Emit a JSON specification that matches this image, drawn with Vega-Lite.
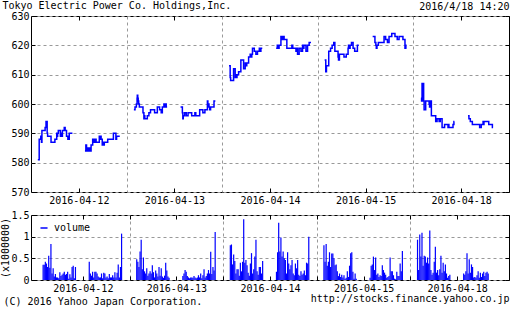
{
"$schema": "https://vega.github.io/schema/vega-lite/v6.json",
"padding": {"left": 0, "top": 1, "right": 0, "bottom": 0},
"title": {"text": "Tokyo Electric Power Co. Holdings,Inc.", "anchor": "start", "offset": 0, "dy": 10, "dx": 2, "font": "DejaVu Sans Mono", "fontSize": 10, "fontWeight": "normal", "color": "#000000"},
"config": {
  "font": "DejaVu Sans Mono",
  "view": {"stroke": "#000000", "strokeWidth": 1},
  "axis": {"labelFont": "DejaVu Sans Mono", "labelFontSize": 10, "labelColor": "#000000", "titleFont": "DejaVu Sans Mono", "titleFontSize": 10, "titleFontWeight": "normal", "titleColor": "#000000", "domain": false, "tickColor": "#000000", "gridColor": "#999999", "gridDash": [3, 3], "labelFlush": false, "labelOverlap": false},
  "legend": {"labelFont": "DejaVu Sans Mono", "labelFontSize": 10, "labelColor": "#000000"}
},
"resolve": {"scale": {"color": "independent"}, "legend": {"color": "independent"}},
"datasets": {
"price": [
{"t":30,"p":581,"s":1},{"t":36,"p":588,"s":1},{"t":43,"p":589,"s":1},{"t":46,"p":587,"s":1},{"t":48,"p":591,"s":1},{"t":62,"p":592,"s":1},{"t":66,"p":594,"s":1},{"t":68,"p":593,"s":1},{"t":69,"p":594,"s":1},{"t":71,"p":590,"s":1},{"t":73,"p":589,"s":1},{"t":88,"p":587,"s":1},{"t":105,"p":588,"s":1},{"t":113,"p":590,"s":1},{"t":115,"p":589,"s":1},{"t":117,"p":590,"s":1},{"t":120,"p":591,"s":1},{"t":129,"p":589,"s":1},{"t":132,"p":590,"s":1},{"t":135,"p":589,"s":1},{"t":138,"p":591,"s":1},{"t":146,"p":592,"s":1},{"t":150,"p":591,"s":1},{"t":156,"p":589,"s":1},{"t":162,"p":588,"s":1},{"t":164,"p":589,"s":1},{"t":166,"p":588,"s":1},{"t":168,"p":590,"s":1},{"t":182,"p":590,"s":1},
{"t":237,"p":584,"s":2},{"t":241,"p":586,"s":2},{"t":244,"p":585,"s":2},{"t":247,"p":584,"s":2},{"t":250,"p":585,"s":2},{"t":253,"p":584,"s":2},{"t":258,"p":585,"s":2},{"t":260,"p":584,"s":2},{"t":264,"p":586,"s":2},{"t":271,"p":588,"s":2},{"t":275,"p":587,"s":2},{"t":277,"p":588,"s":2},{"t":280,"p":587,"s":2},{"t":282,"p":588,"s":2},{"t":286,"p":587,"s":2},{"t":300,"p":589,"s":2},{"t":303,"p":588,"s":2},{"t":306,"p":589,"s":2},{"t":308,"p":588,"s":2},{"t":313,"p":586,"s":2},{"t":316,"p":587,"s":2},{"t":318,"p":586,"s":2},{"t":322,"p":587,"s":2},{"t":337,"p":588,"s":2},{"t":362,"p":590,"s":2},{"t":373,"p":588,"s":2},{"t":376,"p":589,"s":2},{"t":390,"p":589,"s":2},
{"t":452,"p":598,"s":3},{"t":457,"p":599,"s":3},{"t":463,"p":600,"s":3},{"t":466,"p":602,"s":3},{"t":467,"p":603,"s":3},{"t":469,"p":602,"s":3},{"t":471,"p":601,"s":3},{"t":473,"p":600,"s":3},{"t":476,"p":599,"s":3},{"t":492,"p":597,"s":3},{"t":496,"p":595,"s":3},{"t":498,"p":596,"s":3},{"t":500,"p":595,"s":3},{"t":511,"p":596,"s":3},{"t":518,"p":597,"s":3},{"t":525,"p":598,"s":3},{"t":543,"p":597,"s":3},{"t":555,"p":599,"s":3},{"t":565,"p":598,"s":3},{"t":572,"p":597,"s":3},{"t":577,"p":599,"s":3},{"t":584,"p":600,"s":3},{"t":590,"p":599,"s":3},{"t":592,"p":600,"s":3},{"t":594,"p":599,"s":3},{"t":598,"p":599,"s":3},
{"t":657,"p":599,"s":4},{"t":665,"p":597,"s":4},{"t":667,"p":595,"s":4},{"t":669,"p":596,"s":4},{"t":675,"p":597,"s":4},{"t":682,"p":596,"s":4},{"t":690,"p":597,"s":4},{"t":706,"p":596,"s":4},{"t":720,"p":597,"s":4},{"t":724,"p":596,"s":4},{"t":741,"p":598,"s":4},{"t":755,"p":597,"s":4},{"t":764,"p":598,"s":4},{"t":775,"p":601,"s":4},{"t":777,"p":599,"s":4},{"t":779,"p":600,"s":4},{"t":782,"p":599,"s":4},{"t":785,"p":598,"s":4},{"t":789,"p":599,"s":4},{"t":804,"p":601,"s":4},{"t":810,"p":601,"s":4},
{"t":870,"p":613,"s":5},{"t":875,"p":609,"s":5},{"t":877,"p":608,"s":5},{"t":890,"p":612,"s":5},{"t":897,"p":609,"s":5},{"t":900,"p":610,"s":5},{"t":902,"p":609,"s":5},{"t":905,"p":610,"s":5},{"t":912,"p":611,"s":5},{"t":922,"p":615,"s":5},{"t":934,"p":612,"s":5},{"t":941,"p":614,"s":5},{"t":944,"p":613,"s":5},{"t":948,"p":614,"s":5},{"t":956,"p":616,"s":5},{"t":963,"p":617,"s":5},{"t":967,"p":616,"s":5},{"t":970,"p":617,"s":5},{"t":973,"p":619,"s":5},{"t":981,"p":618,"s":5},{"t":988,"p":617,"s":5},{"t":995,"p":618,"s":5},{"t":1003,"p":619,"s":5},{"t":1007,"p":618,"s":5},{"t":1010,"p":619,"s":5},{"t":1016,"p":619,"s":5},
{"t":1077,"p":619,"s":6},{"t":1082,"p":620,"s":6},{"t":1084,"p":619,"s":6},{"t":1090,"p":620,"s":6},{"t":1098,"p":623,"s":6},{"t":1100,"p":622,"s":6},{"t":1102,"p":623,"s":6},{"t":1104,"p":622,"s":6},{"t":1110,"p":623,"s":6},{"t":1112,"p":622,"s":6},{"t":1124,"p":619,"s":6},{"t":1146,"p":620,"s":6},{"t":1150,"p":619,"s":6},{"t":1164,"p":618,"s":6},{"t":1168,"p":619,"s":6},{"t":1171,"p":617,"s":6},{"t":1178,"p":619,"s":6},{"t":1186,"p":618,"s":6},{"t":1193,"p":620,"s":6},{"t":1196,"p":619,"s":6},{"t":1199,"p":620,"s":6},{"t":1208,"p":618,"s":6},{"t":1215,"p":620,"s":6},{"t":1222,"p":621,"s":6},{"t":1230,"p":621,"s":6},
{"t":1290,"p":615,"s":7},{"t":1295,"p":611,"s":7},{"t":1298,"p":613,"s":7},{"t":1308,"p":618,"s":7},{"t":1316,"p":619,"s":7},{"t":1323,"p":620,"s":7},{"t":1330,"p":621,"s":7},{"t":1335,"p":618,"s":7},{"t":1349,"p":616,"s":7},{"t":1351,"p":615,"s":7},{"t":1355,"p":617,"s":7},{"t":1375,"p":616,"s":7},{"t":1385,"p":617,"s":7},{"t":1393,"p":619,"s":7},{"t":1395,"p":620,"s":7},{"t":1397,"p":619,"s":7},{"t":1402,"p":620,"s":7},{"t":1408,"p":621,"s":7},{"t":1415,"p":619,"s":7},{"t":1422,"p":618,"s":7},{"t":1434,"p":620,"s":7},{"t":1440,"p":620,"s":7},
{"t":1501,"p":623,"s":8},{"t":1511,"p":621,"s":8},{"t":1515,"p":620,"s":8},{"t":1517,"p":619,"s":8},{"t":1520,"p":620,"s":8},{"t":1526,"p":621,"s":8},{"t":1551,"p":623,"s":8},{"t":1558,"p":622,"s":8},{"t":1566,"p":621,"s":8},{"t":1573,"p":623,"s":8},{"t":1585,"p":624,"s":8},{"t":1599,"p":623,"s":8},{"t":1609,"p":622,"s":8},{"t":1617,"p":623,"s":8},{"t":1634,"p":622,"s":8},{"t":1643,"p":619,"s":8},{"t":1645,"p":620,"s":8},{"t":1647,"p":619,"s":8},{"t":1650,"p":619,"s":8},
{"t":1713,"p":602,"s":9},{"t":1716,"p":601,"s":9},{"t":1718,"p":607,"s":9},{"t":1719,"p":601,"s":9},{"t":1720,"p":606,"s":9},{"t":1721,"p":602,"s":9},{"t":1723,"p":607,"s":9},{"t":1725,"p":601,"s":9},{"t":1727,"p":598,"s":9},{"t":1734,"p":601,"s":9},{"t":1749,"p":600,"s":9},{"t":1751,"p":599,"s":9},{"t":1755,"p":601,"s":9},{"t":1759,"p":596,"s":9},{"t":1778,"p":594,"s":9},{"t":1780,"p":595,"s":9},{"t":1782,"p":594,"s":9},{"t":1784,"p":595,"s":9},{"t":1793,"p":594,"s":9},{"t":1795,"p":595,"s":9},{"t":1796,"p":594,"s":9},{"t":1798,"p":595,"s":9},{"t":1806,"p":592,"s":9},{"t":1817,"p":593,"s":9},{"t":1832,"p":592,"s":9},{"t":1834,"p":593,"s":9},{"t":1836,"p":592,"s":9},{"t":1854,"p":593,"s":9},{"t":1858,"p":594,"s":9},{"t":1860,"p":594,"s":9},
{"t":1920,"p":596,"s":10},{"t":1924,"p":595,"s":10},{"t":1930,"p":594,"s":10},{"t":1939,"p":593,"s":10},{"t":1971,"p":592,"s":10},{"t":1978,"p":593,"s":10},{"t":1986,"p":594,"s":10},{"t":1988,"p":593,"s":10},{"t":1990,"p":594,"s":10},{"t":2011,"p":593,"s":10},{"t":2027,"p":592,"s":10},{"t":2030,"p":592,"s":10}
],
"vol": [
{"t":32,"v":0.35},{"t":37,"v":0.35},{"t":42,"v":0.42},{"t":47,"v":0.38},{"t":52,"v":0.30},{"t":57,"v":0.56},{"t":62,"v":0.28},{"t":67,"v":0.83},{"t":72,"v":0.15},{"t":77,"v":0.27},{"t":82,"v":0.08},{"t":87,"v":0.14},{"t":92,"v":0.06},{"t":97,"v":0.06},{"t":102,"v":0.04},{"t":107,"v":0.18},{"t":112,"v":0.09},{"t":117,"v":0.12},{"t":122,"v":0.15},{"t":127,"v":0.19},{"t":132,"v":0.12},{"t":137,"v":0.14},{"t":142,"v":0.19},{"t":147,"v":0.03},{"t":152,"v":0.13},{"t":157,"v":0.06},{"t":162,"v":0.30},{"t":167,"v":0.33},{"t":172,"v":0.04},{"t":177,"v":0.30},
{"t":239,"v":0.42},{"t":244,"v":0.15},{"t":249,"v":0.10},{"t":254,"v":0.19},{"t":259,"v":0.06},{"t":264,"v":0.19},{"t":269,"v":0.19},{"t":274,"v":0.15},{"t":279,"v":0.08},{"t":284,"v":0.06},{"t":289,"v":0.06},{"t":294,"v":0.15},{"t":299,"v":0.04},{"t":304,"v":0.17},{"t":309,"v":0.15},{"t":314,"v":0.06},{"t":319,"v":0.08},{"t":324,"v":0.04},{"t":329,"v":0.14},{"t":334,"v":0.06},{"t":339,"v":0.06},{"t":344,"v":0.11},{"t":349,"v":0.06},{"t":354,"v":0.18},{"t":359,"v":0.06},{"t":364,"v":0.17},{"t":369,"v":0.36},{"t":374,"v":0.06},{"t":379,"v":0.30},{"t":384,"v":1.07},
{"t":452,"v":0.48},{"t":457,"v":0.42},{"t":462,"v":0.30},{"t":467,"v":0.66},{"t":472,"v":0.93},{"t":477,"v":0.25},{"t":482,"v":0.52},{"t":487,"v":0.20},{"t":492,"v":0.15},{"t":497,"v":0.27},{"t":502,"v":0.10},{"t":507,"v":0.15},{"t":512,"v":0.20},{"t":517,"v":0.15},{"t":522,"v":0.34},{"t":527,"v":0.18},{"t":532,"v":0.06},{"t":537,"v":0.22},{"t":542,"v":0.15},{"t":547,"v":0.08},{"t":552,"v":0.30},{"t":557,"v":0.10},{"t":562,"v":0.27},{"t":567,"v":0.08},{"t":572,"v":0.05},{"t":577,"v":0.10},{"t":582,"v":0.40},{"t":587,"v":0.22},{"t":592,"v":0.08},{"t":597,"v":0.05},
{"t":659,"v":0.09},{"t":664,"v":0.15},{"t":669,"v":0.23},{"t":674,"v":0.19},{"t":679,"v":0.09},{"t":684,"v":0.06},{"t":689,"v":0.04},{"t":694,"v":0.06},{"t":699,"v":0.06},{"t":704,"v":0.05},{"t":709,"v":0.09},{"t":714,"v":0.06},{"t":719,"v":0.04},{"t":724,"v":0.06},{"t":729,"v":0.11},{"t":734,"v":0.06},{"t":739,"v":0.15},{"t":744,"v":0.04},{"t":749,"v":0.11},{"t":754,"v":0.25},{"t":759,"v":0.06},{"t":764,"v":0.09},{"t":769,"v":0.15},{"t":774,"v":0.23},{"t":779,"v":0.15},{"t":784,"v":0.65},{"t":789,"v":0.14},{"t":794,"v":0.30},{"t":799,"v":0.22},{"t":804,"v":1.11},
{"t":872,"v":0.80},{"t":877,"v":0.82},{"t":882,"v":0.36},{"t":887,"v":0.59},{"t":892,"v":0.44},{"t":897,"v":0.15},{"t":902,"v":0.25},{"t":907,"v":0.25},{"t":912,"v":0.10},{"t":917,"v":0.40},{"t":922,"v":0.20},{"t":927,"v":0.42},{"t":932,"v":1.40},{"t":937,"v":0.40},{"t":942,"v":0.46},{"t":947,"v":0.34},{"t":952,"v":0.17},{"t":957,"v":0.10},{"t":962,"v":0.38},{"t":967,"v":0.62},{"t":972,"v":0.15},{"t":977,"v":0.25},{"t":982,"v":0.54},{"t":987,"v":0.93},{"t":992,"v":0.20},{"t":997,"v":0.12},{"t":1002,"v":0.30},{"t":1007,"v":0.30},{"t":1012,"v":0.15},{"t":1017,"v":0.44},
{"t":1079,"v":0.19},{"t":1084,"v":0.64},{"t":1089,"v":1.32},{"t":1094,"v":0.66},{"t":1099,"v":0.98},{"t":1104,"v":0.54},{"t":1109,"v":0.66},{"t":1114,"v":0.50},{"t":1119,"v":0.46},{"t":1124,"v":0.15},{"t":1129,"v":0.64},{"t":1134,"v":0.38},{"t":1139,"v":0.25},{"t":1144,"v":0.34},{"t":1149,"v":0.46},{"t":1154,"v":0.15},{"t":1159,"v":0.11},{"t":1164,"v":0.38},{"t":1169,"v":0.27},{"t":1174,"v":0.46},{"t":1179,"v":0.12},{"t":1184,"v":0.09},{"t":1189,"v":0.20},{"t":1194,"v":0.12},{"t":1199,"v":0.15},{"t":1204,"v":0.22},{"t":1209,"v":0.11},{"t":1214,"v":0.40},{"t":1219,"v":0.38},{"t":1224,"v":1.00},
{"t":1292,"v":0.80},{"t":1297,"v":0.42},{"t":1302,"v":0.83},{"t":1307,"v":0.33},{"t":1312,"v":0.42},{"t":1317,"v":0.64},{"t":1322,"v":0.30},{"t":1327,"v":0.61},{"t":1332,"v":0.61},{"t":1337,"v":0.50},{"t":1342,"v":0.34},{"t":1347,"v":0.36},{"t":1352,"v":0.20},{"t":1357,"v":0.09},{"t":1362,"v":0.15},{"t":1367,"v":0.07},{"t":1372,"v":0.12},{"t":1377,"v":0.06},{"t":1382,"v":0.11},{"t":1387,"v":0.03},{"t":1392,"v":0.05},{"t":1397,"v":0.20},{"t":1402,"v":0.07},{"t":1407,"v":0.33},{"t":1412,"v":0.62},{"t":1417,"v":0.64},{"t":1422,"v":0.19},{"t":1427,"v":0.03},{"t":1432,"v":0.15},{"t":1437,"v":0.03},
{"t":1499,"v":0.05},{"t":1504,"v":0.33},{"t":1509,"v":0.36},{"t":1514,"v":0.54},{"t":1519,"v":0.23},{"t":1524,"v":0.52},{"t":1529,"v":0.12},{"t":1534,"v":0.15},{"t":1539,"v":0.07},{"t":1544,"v":0.11},{"t":1549,"v":0.09},{"t":1554,"v":0.34},{"t":1559,"v":0.23},{"t":1564,"v":0.17},{"t":1569,"v":0.12},{"t":1574,"v":0.05},{"t":1579,"v":0.07},{"t":1584,"v":0.09},{"t":1589,"v":0.52},{"t":1594,"v":0.20},{"t":1599,"v":0.20},{"t":1604,"v":0.11},{"t":1609,"v":0.03},{"t":1614,"v":0.02},{"t":1619,"v":0.19},{"t":1624,"v":0.09},{"t":1629,"v":0.09},{"t":1634,"v":0.38},{"t":1639,"v":0.20},{"t":1644,"v":0.67},
{"t":1712,"v":0.93},{"t":1717,"v":0.23},{"t":1722,"v":1.05},{"t":1727,"v":0.54},{"t":1732,"v":1.09},{"t":1737,"v":0.33},{"t":1742,"v":0.56},{"t":1747,"v":0.54},{"t":1752,"v":0.40},{"t":1757,"v":0.52},{"t":1762,"v":0.38},{"t":1767,"v":1.14},{"t":1772,"v":0.23},{"t":1777,"v":0.12},{"t":1782,"v":0.17},{"t":1787,"v":0.42},{"t":1792,"v":0.77},{"t":1797,"v":0.17},{"t":1802,"v":0.23},{"t":1807,"v":0.11},{"t":1812,"v":0.25},{"t":1817,"v":0.56},{"t":1822,"v":0.17},{"t":1827,"v":0.40},{"t":1832,"v":0.20},{"t":1837,"v":0.36},{"t":1842,"v":0.15},{"t":1847,"v":0.05},{"t":1852,"v":0.09},{"t":1857,"v":0.12},
{"t":1919,"v":0.15},{"t":1924,"v":0.12},{"t":1929,"v":0.20},{"t":1934,"v":0.62},{"t":1939,"v":0.15},{"t":1944,"v":0.48},{"t":1949,"v":0.17},{"t":1954,"v":0.36},{"t":1959,"v":0.30},{"t":1964,"v":0.06},{"t":1969,"v":0.07},{"t":1974,"v":0.05},{"t":1979,"v":0.11},{"t":1984,"v":0.20},{"t":1989,"v":0.05},{"t":1994,"v":0.17},{"t":1999,"v":0.07},{"t":2004,"v":0.15},{"t":2009,"v":0.19},{"t":2014,"v":0.09},{"t":2019,"v":0.17},{"t":2024,"v":0.19},{"t":2029,"v":0.15}
]
},
"spacing": 3,
"vconcat": [
{
  "width": 478, "height": 176,
  "data": {"name": "price"},
  "layer": [
    {
      "mark": {"type": "line", "interpolate": "step-after", "color": "#0000ff", "strokeWidth": 1.5},
      "encoding": {
        "x": {"field": "t", "type": "quantitative", "scale": {"domain": [0, 2100], "nice": false, "zero": false},
          "axis": {"orient": "bottom", "title": null, "values": [210, 420, 630, 840, 1050, 1260, 1470, 1680, 1890],
            "labelExpr": "datum.value == 210 ? '2016-04-12' : datum.value == 630 ? '2016-04-13' : datum.value == 1050 ? '2016-04-14' : datum.value == 1470 ? '2016-04-15' : datum.value == 1890 ? '2016-04-18' : ''",
            "tickSize": -4, "labelPadding": 7, "grid": true,
            "gridOpacity": {"condition": {"test": "datum.value % 420 == 0", "value": 1}, "value": 0},
            "tickOpacity": {"condition": {"test": "datum.value % 420 == 0", "value": 0}, "value": 1}}},
        "y": {"field": "p", "type": "quantitative", "scale": {"domain": [570, 630], "nice": false, "zero": false},
          "axis": {"orient": "left", "title": null, "values": [570, 580, 590, 600, 610, 620, 630], "tickSize": -4, "labelPadding": 6, "grid": true}},
        "detail": {"field": "s"}
      }
    },
    {
      "mark": {"type": "line", "opacity": 0},
      "encoding": {
        "x": {"field": "t", "type": "quantitative",
          "axis": {"orient": "top", "values": [210, 630, 1050, 1470, 1890], "labels": false, "tickSize": -4, "grid": false,
            "title": "2016/4/18 14:20", "titleAnchor": "end", "titlePadding": 4}},
        "y": {"field": "p", "type": "quantitative",
          "axis": {"orient": "right", "values": [570, 580, 590, 600, 610, 620, 630], "labels": false, "tickSize": -4, "grid": false, "title": null}},
        "detail": {"field": "s"}
      }
    }
  ],
  "resolve": {"axis": {"x": "independent", "y": "independent"}}
},
{
  "width": 478, "height": 65,
  "data": {"name": "vol"},
  "title": {"text": "http://stocks.finance.yahoo.co.jp", "orient": "bottom", "anchor": "end", "offset": 0, "dy": -12, "font": "DejaVu Sans Mono", "fontSize": 10, "fontWeight": "normal", "color": "#000000"},
  "layer": [
    {
      "mark": {"type": "bar", "width": 1.2},
      "encoding": {
        "x": {"field": "t", "type": "quantitative", "scale": {"domain": [0, 2100], "nice": false, "zero": false},
          "axis": {"orient": "bottom", "values": [210, 420, 630, 840, 1050, 1260, 1470, 1680, 1890],
            "labelExpr": "datum.value == 210 ? '2016-04-12' : datum.value == 630 ? '2016-04-13' : datum.value == 1050 ? '2016-04-14' : datum.value == 1470 ? '2016-04-15' : datum.value == 1890 ? '2016-04-18' : ''",
            "tickSize": -4, "labelPadding": 7, "grid": true,
            "gridOpacity": {"condition": {"test": "datum.value % 420 == 0", "value": 1}, "value": 0},
            "title": "(C) 2016 Yahoo Japan Corporation.", "titleAnchor": "start", "titleAlign": "left", "titleX": -28, "titlePadding": 3}},
        "y": {"field": "v", "type": "quantitative", "scale": {"domain": [0, 1.5], "nice": false},
          "axis": {"orient": "left", "values": [0, 0.5, 1, 1.5], "labelExpr": "'' + datum.value", "tickSize": -4, "labelPadding": 6, "grid": true,
            "title": "(x1000000)", "titlePadding": 0}},
        "color": {"datum": "volume", "type": "nominal", "scale": {"range": ["#0000ff"]},
          "legend": {"orient": "top-left", "title": null, "symbolType": "stroke", "symbolSize": 50, "offset": 8, "padding": 0, "labelOffset": 5,
            "symbolStrokeWidth": 1.5, "symbolStrokeColor": "#0000ff",
            "encode": {"symbols": {"update": {"stroke": {"value": "#0000ff"}, "strokeWidth": {"value": 1.5}}}}}}
      }
    },
    {
      "mark": {"type": "bar", "width": 1.2, "opacity": 0},
      "encoding": {
        "x": {"field": "t", "type": "quantitative",
          "axis": {"orient": "top", "values": [210, 420, 630, 840, 1050, 1260, 1470, 1680, 1890], "labels": false, "tickSize": -4, "grid": false, "title": null}},
        "y": {"field": "v", "type": "quantitative",
          "axis": {"orient": "right", "values": [0, 0.5, 1, 1.5], "labels": false, "tickSize": -4, "grid": false, "title": null}}
      }
    }
  ],
  "resolve": {"axis": {"x": "independent", "y": "independent"}}
}
]
}
